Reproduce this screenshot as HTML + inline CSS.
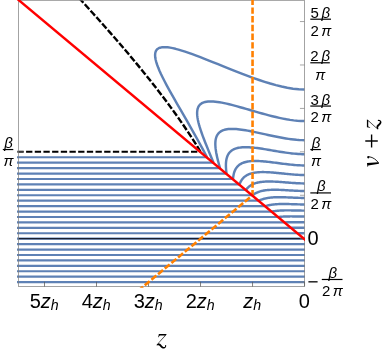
<!DOCTYPE html>
<html><head><meta charset="utf-8"><style>
html,body{margin:0;padding:0;background:#fff;}
body{width:390px;height:358px;overflow:hidden;position:relative;font-family:"Liberation Sans",sans-serif;color:#000;}
svg{position:absolute;left:0;top:0;will-change:transform;}
text{font-family:"Liberation Sans",sans-serif;fill:#000;}
.i{font-style:italic;}
.s{font-family:"Liberation Serif",serif;font-style:italic;}
</style></head><body>
<svg width="390" height="358" viewBox="0 0 390 358">
<defs><clipPath id="c"><rect x="17.0" y="-2" width="287.95" height="289.8"/></clipPath></defs>
<g clip-path="url(#c)">
<path d="M13.29,282.13 309.75,282.13 M13.29,276.70 309.75,276.70 M13.29,271.27 309.75,271.27 M13.29,265.84 309.75,265.84 M13.29,260.41 309.75,260.41 M13.29,254.99 309.75,254.99 M13.29,249.56 309.75,249.56 M13.29,244.13 309.75,244.13 M13.29,238.70 309.75,238.70 M13.29,233.27 298.35,233.27 M13.29,227.84 291.85,227.84 M13.29,222.41 285.35,222.41 M13.29,216.98 278.85,216.98 M13.29,211.56 272.34,211.56 M13.29,206.13 265.84,206.13 M13.29,200.70 259.34,200.70 M13.29,195.27 252.84,195.27 M13.29,189.84 246.34,189.84 M13.29,184.41 239.84,184.41 M13.29,178.98 233.34,178.98 M13.29,173.56 226.84,173.56 M13.29,168.13 220.33,168.13 M13.29,162.70 213.83,162.70 M13.29,157.27 207.33,157.27" fill="none" stroke="#5e81b5" stroke-width="2.2" stroke-linejoin="round"/>
<path d="M298.05,233.27 298.15,233.27 298.25,233.27 298.36,233.27 298.46,233.27 298.56,233.27 298.67,233.27 298.77,233.27 298.87,233.27 298.97,233.27 299.08,233.27 299.18,233.27 299.28,233.27 299.39,233.26 299.49,233.26 299.59,233.26 299.69,233.26 299.80,233.26 299.90,233.26 300.00,233.26 300.11,233.26 300.21,233.26 300.31,233.26 300.42,233.26 300.52,233.26 300.62,233.26 300.73,233.26 300.83,233.26 300.93,233.26 301.03,233.26 301.14,233.26 301.24,233.26 301.34,233.26 301.45,233.26 301.55,233.26 301.65,233.26 301.76,233.26 301.86,233.26 301.96,233.26 302.07,233.26 302.17,233.26 302.27,233.26 302.38,233.26 302.48,233.26 302.58,233.26 302.69,233.26 302.79,233.26 302.89,233.26 303.00,233.26 303.10,233.26 303.21,233.26 303.31,233.26 303.41,233.26 303.52,233.26 303.62,233.26 303.72,233.26 303.83,233.26 303.93,233.26 304.03,233.26 304.14,233.26 304.24,233.26 304.34,233.26 304.45,233.26 304.55,233.26 M291.55,227.84 291.75,227.84 291.95,227.83 292.15,227.83 292.36,227.82 292.56,227.82 292.76,227.81 292.97,227.81 293.17,227.81 293.37,227.80 293.58,227.80 293.78,227.80 293.99,227.79 294.19,227.79 294.39,227.79 294.60,227.79 294.80,227.78 295.01,227.78 295.21,227.78 295.42,227.78 295.63,227.78 295.83,227.78 296.04,227.78 296.24,227.77 296.45,227.77 296.65,227.77 296.86,227.77 297.07,227.77 297.27,227.77 297.48,227.77 297.69,227.77 297.89,227.77 298.10,227.77 298.31,227.77 298.51,227.77 298.72,227.77 298.93,227.77 299.14,227.77 299.34,227.77 299.55,227.77 299.76,227.77 299.97,227.77 300.18,227.77 300.38,227.78 300.59,227.78 300.80,227.78 301.01,227.78 301.22,227.78 301.42,227.78 301.63,227.78 301.84,227.78 302.05,227.78 302.26,227.78 302.46,227.78 302.67,227.78 302.88,227.78 303.09,227.78 303.30,227.78 303.51,227.78 303.72,227.78 303.92,227.79 304.13,227.79 304.34,227.79 304.55,227.79 M285.05,222.41 285.34,222.40 285.64,222.38 285.93,222.36 286.23,222.35 286.53,222.33 286.83,222.32 287.13,222.30 287.43,222.29 287.73,222.28 288.03,222.27 288.33,222.26 288.63,222.25 288.93,222.24 289.24,222.23 289.54,222.22 289.84,222.22 290.15,222.21 290.45,222.20 290.76,222.20 291.07,222.19 291.37,222.19 291.68,222.19 291.99,222.18 292.30,222.18 292.61,222.18 292.91,222.17 293.22,222.17 293.53,222.17 293.84,222.17 294.16,222.17 294.47,222.17 294.78,222.17 295.09,222.17 295.40,222.17 295.71,222.17 296.03,222.17 296.34,222.17 296.65,222.17 296.97,222.18 297.28,222.18 297.60,222.18 297.91,222.18 298.22,222.18 298.54,222.19 298.85,222.19 299.17,222.19 299.48,222.19 299.80,222.20 300.12,222.20 300.43,222.20 300.75,222.20 301.06,222.20 301.38,222.21 301.70,222.21 302.01,222.21 302.33,222.21 302.65,222.21 302.96,222.22 303.28,222.22 303.60,222.22 303.92,222.22 304.23,222.22 304.55,222.22 M278.55,216.98 278.92,216.94 279.30,216.90 279.68,216.86 280.07,216.82 280.45,216.79 280.84,216.75 281.22,216.72 281.61,216.69 282.00,216.66 282.39,216.63 282.79,216.61 283.18,216.59 283.58,216.56 283.98,216.54 284.37,216.53 284.77,216.51 285.18,216.49 285.58,216.48 285.98,216.46 286.39,216.45 286.79,216.44 287.20,216.43 287.61,216.42 288.02,216.42 288.43,216.41 288.84,216.41 289.25,216.40 289.67,216.40 290.08,216.40 290.50,216.39 290.91,216.39 291.33,216.39 291.75,216.39 292.17,216.40 292.59,216.40 293.01,216.40 293.43,216.40 293.85,216.41 294.27,216.41 294.70,216.42 295.12,216.42 295.54,216.42 295.97,216.43 296.39,216.44 296.82,216.44 297.25,216.45 297.67,216.45 298.10,216.46 298.53,216.46 298.96,216.47 299.39,216.48 299.82,216.48 300.25,216.49 300.68,216.49 301.11,216.50 301.54,216.50 301.97,216.50 302.40,216.51 302.83,216.51 303.26,216.51 303.69,216.51 304.12,216.51 304.55,216.51 M272.04,211.56 272.49,211.47 272.94,211.38 273.39,211.30 273.85,211.23 274.31,211.16 274.77,211.09 275.23,211.03 275.70,210.96 276.17,210.91 276.65,210.85 277.12,210.80 277.60,210.76 278.09,210.71 278.57,210.67 279.06,210.64 279.55,210.60 280.04,210.57 280.54,210.54 281.03,210.51 281.53,210.49 282.04,210.47 282.54,210.45 283.05,210.43 283.56,210.42 284.07,210.41 284.58,210.40 285.10,210.39 285.61,210.38 286.13,210.38 286.65,210.37 287.18,210.37 287.70,210.37 288.23,210.37 288.76,210.38 289.29,210.38 289.82,210.38 290.35,210.39 290.89,210.40 291.42,210.41 291.96,210.41 292.50,210.42 293.04,210.43 293.58,210.44 294.12,210.46 294.66,210.47 295.20,210.48 295.75,210.49 296.30,210.50 296.84,210.51 297.39,210.52 297.94,210.54 298.49,210.55 299.04,210.56 299.58,210.57 300.14,210.58 300.69,210.59 301.24,210.59 301.79,210.60 302.34,210.61 302.89,210.61 303.45,210.61 304.00,210.62 304.55,210.62 M265.54,206.13 266.04,205.97 266.54,205.82 267.04,205.68 267.56,205.54 268.07,205.42 268.60,205.29 269.13,205.18 269.66,205.07 270.20,204.97 270.74,204.87 271.29,204.79 271.84,204.70 272.40,204.62 272.97,204.55 273.53,204.48 274.11,204.42 274.68,204.37 275.27,204.31 275.85,204.27 276.44,204.22 277.04,204.18 277.64,204.15 278.24,204.12 278.85,204.09 279.46,204.07 280.07,204.05 280.69,204.04 281.31,204.03 281.93,204.02 282.56,204.01 283.19,204.01 283.83,204.01 284.47,204.01 285.11,204.02 285.75,204.03 286.40,204.03 287.05,204.05 287.70,204.06 288.35,204.07 289.01,204.09 289.67,204.11 290.33,204.12 290.99,204.14 291.66,204.16 292.33,204.18 292.99,204.20 293.67,204.23 294.34,204.25 295.01,204.27 295.69,204.29 296.36,204.31 297.04,204.33 297.72,204.35 298.40,204.37 299.08,204.38 299.76,204.40 300.45,204.41 301.13,204.43 301.81,204.44 302.50,204.45 303.18,204.45 303.87,204.46 304.55,204.46 M259.04,200.70 259.56,200.44 260.09,200.19 260.62,199.96 261.17,199.73 261.72,199.52 262.29,199.32 262.86,199.13 263.44,198.95 264.03,198.79 264.62,198.63 265.23,198.48 265.84,198.34 266.47,198.21 267.10,198.09 267.73,197.98 268.38,197.88 269.03,197.78 269.69,197.70 270.36,197.62 271.03,197.55 271.71,197.49 272.40,197.43 273.09,197.38 273.80,197.34 274.50,197.30 275.22,197.27 275.94,197.24 276.66,197.22 277.39,197.21 278.13,197.20 278.87,197.20 279.62,197.20 280.37,197.20 281.13,197.21 281.89,197.22 282.66,197.24 283.43,197.25 284.21,197.28 284.99,197.30 285.77,197.33 286.56,197.36 287.35,197.39 288.15,197.42 288.95,197.45 289.75,197.49 290.56,197.52 291.36,197.56 292.17,197.59 292.99,197.63 293.80,197.66 294.62,197.70 295.44,197.73 296.26,197.76 297.09,197.80 297.91,197.82 298.74,197.85 299.57,197.88 300.40,197.90 301.23,197.92 302.06,197.93 302.89,197.94 303.72,197.95 304.55,197.95 M252.54,195.27 253.05,194.86 253.57,194.48 254.10,194.11 254.65,193.76 255.21,193.43 255.79,193.11 256.38,192.82 256.98,192.53 257.60,192.27 258.23,192.02 258.87,191.79 259.52,191.57 260.19,191.37 260.87,191.18 261.56,191.01 262.26,190.85 262.98,190.70 263.70,190.56 264.44,190.44 265.19,190.33 265.95,190.23 266.72,190.14 267.50,190.06 268.29,189.99 269.09,189.93 269.90,189.89 270.72,189.85 271.55,189.81 272.39,189.79 273.23,189.78 274.09,189.77 274.96,189.77 275.83,189.78 276.71,189.79 277.60,189.81 278.49,189.83 279.40,189.86 280.31,189.90 281.22,189.94 282.15,189.98 283.07,190.02 284.01,190.07 284.95,190.12 285.90,190.18 286.85,190.23 287.80,190.29 288.77,190.35 289.73,190.41 290.70,190.46 291.67,190.52 292.65,190.58 293.63,190.63 294.61,190.68 295.60,190.73 296.59,190.78 297.58,190.82 298.57,190.86 299.56,190.90 300.56,190.93 301.56,190.95 302.55,190.97 303.55,190.98 304.55,190.99 M246.04,189.84 246.49,189.23 246.96,188.64 247.45,188.08 247.96,187.55 248.49,187.05 249.04,186.58 249.61,186.13 250.20,185.71 250.81,185.31 251.44,184.93 252.09,184.58 252.76,184.25 253.45,183.94 254.15,183.66 254.87,183.39 255.61,183.15 256.37,182.92 257.15,182.72 257.94,182.53 258.75,182.36 259.58,182.21 260.42,182.07 261.28,181.95 262.15,181.85 263.04,181.76 263.94,181.69 264.86,181.63 265.79,181.58 266.74,181.55 267.70,181.52 268.67,181.51 269.66,181.51 270.66,181.52 271.67,181.54 272.69,181.57 273.73,181.61 274.77,181.65 275.83,181.71 276.90,181.77 277.97,181.83 279.06,181.90 280.15,181.98 281.26,182.06 282.37,182.14 283.49,182.23 284.62,182.32 285.75,182.41 286.90,182.50 288.04,182.59 289.20,182.68 290.36,182.77 291.52,182.85 292.69,182.93 293.86,183.01 295.04,183.09 296.22,183.16 297.41,183.22 298.59,183.28 299.78,183.32 300.97,183.36 302.16,183.39 303.36,183.41 304.55,183.42 M239.54,184.41 239.86,183.50 240.22,182.64 240.61,181.82 241.02,181.04 241.47,180.30 241.94,179.59 242.45,178.93 242.98,178.31 243.54,177.72 244.12,177.16 244.74,176.64 245.38,176.16 246.05,175.70 246.75,175.28 247.47,174.89 248.22,174.52 249.00,174.19 249.80,173.89 250.63,173.61 251.48,173.36 252.35,173.13 253.25,172.93 254.18,172.75 255.12,172.60 256.09,172.46 257.08,172.35 258.09,172.26 259.13,172.19 260.18,172.14 261.26,172.11 262.35,172.09 263.47,172.09 264.60,172.10 265.75,172.13 266.92,172.18 268.11,172.24 269.31,172.30 270.53,172.38 271.77,172.47 273.02,172.57 274.29,172.68 275.56,172.80 276.86,172.92 278.16,173.05 279.48,173.18 280.81,173.31 282.15,173.45 283.50,173.59 284.86,173.73 286.23,173.87 287.60,174.00 288.99,174.14 290.38,174.26 291.78,174.39 293.18,174.50 294.59,174.61 296.01,174.71 297.42,174.80 298.85,174.87 300.27,174.93 301.69,174.98 303.12,175.01 304.55,175.02 M233.04,178.98 233.15,177.66 233.31,176.39 233.51,175.20 233.74,174.06 234.02,172.98 234.34,171.96 234.71,170.99 235.11,170.08 235.55,169.22 236.03,168.41 236.55,167.65 237.11,166.94 237.71,166.28 238.35,165.66 239.03,165.08 239.74,164.55 240.50,164.06 241.29,163.62 242.11,163.21 242.97,162.84 243.87,162.50 244.80,162.21 245.77,161.95 246.77,161.72 247.81,161.52 248.88,161.36 249.98,161.22 251.11,161.12 252.27,161.04 253.47,160.99 254.69,160.97 255.94,160.97 257.22,160.99 258.53,161.03 259.86,161.10 261.22,161.19 262.61,161.29 264.01,161.41 265.45,161.55 266.90,161.70 268.38,161.86 269.88,162.03 271.39,162.22 272.93,162.41 274.49,162.61 276.06,162.82 277.65,163.03 279.25,163.24 280.87,163.45 282.51,163.67 284.15,163.88 285.81,164.08 287.48,164.28 289.16,164.47 290.85,164.65 292.54,164.82 294.24,164.97 295.95,165.11 297.67,165.23 299.38,165.33 301.10,165.40 302.83,165.44 304.55,165.46 M226.54,173.56 226.30,171.62 226.12,169.77 226.00,168.03 225.93,166.37 225.92,164.79 225.97,163.31 226.07,161.90 226.24,160.57 226.46,159.32 226.73,158.14 227.06,157.03 227.45,155.99 227.89,155.02 228.39,154.12 228.95,153.28 229.56,152.50 230.22,151.78 230.94,151.12 231.71,150.52 232.53,149.97 233.41,149.48 234.34,149.05 235.32,148.66 236.34,148.32 237.42,148.03 238.55,147.79 239.72,147.59 240.94,147.43 242.21,147.32 243.52,147.24 244.88,147.20 246.28,147.20 247.72,147.24 249.21,147.31 250.73,147.41 252.29,147.53 253.89,147.69 255.53,147.87 257.20,148.08 258.91,148.31 260.65,148.56 262.42,148.82 264.23,149.11 266.06,149.40 267.92,149.71 269.80,150.03 271.72,150.35 273.65,150.68 275.61,151.01 277.59,151.35 279.59,151.67 281.60,151.99 283.64,152.31 285.68,152.61 287.74,152.89 289.82,153.16 291.90,153.41 294.00,153.63 296.10,153.82 298.21,153.97 300.32,154.09 302.43,154.16 304.55,154.19 M220.03,168.13 219.21,165.24 218.47,162.51 217.80,159.92 217.21,157.46 216.70,155.13 216.27,152.93 215.93,150.84 215.66,148.88 215.47,147.02 215.36,145.27 215.33,143.63 215.39,142.09 215.52,140.64 215.74,139.30 216.04,138.05 216.41,136.88 216.87,135.81 217.40,134.83 218.02,133.93 218.71,133.11 219.48,132.37 220.33,131.71 221.26,131.12 222.26,130.61 223.33,130.17 224.48,129.80 225.70,129.50 226.99,129.26 228.36,129.08 229.79,128.97 231.29,128.91 232.85,128.91 234.48,128.97 236.18,129.07 237.93,129.22 239.75,129.42 241.63,129.67 243.56,129.95 245.55,130.27 247.59,130.63 249.68,131.02 251.82,131.44 254.01,131.89 256.25,132.36 258.53,132.85 260.85,133.35 263.21,133.87 265.61,134.40 268.05,134.93 270.51,135.47 273.01,136.00 275.54,136.52 278.09,137.03 280.67,137.52 283.27,137.99 285.89,138.44 288.52,138.85 291.17,139.21 293.83,139.53 296.50,139.80 299.18,140.00 301.86,140.13 304.55,140.17 M213.53,162.70 211.65,158.18 209.88,153.92 208.22,149.89 206.67,146.08 205.22,142.47 203.90,139.06 202.68,135.83 201.59,132.78 200.61,129.90 199.75,127.19 199.01,124.63 198.39,122.23 197.90,119.98 197.52,117.88 197.27,115.91 197.14,114.09 197.13,112.40 197.25,110.85 197.48,109.43 197.85,108.13 198.33,106.96 198.93,105.90 199.66,104.97 200.50,104.15 201.47,103.44 202.55,102.85 203.75,102.36 205.06,101.97 206.49,101.69 208.03,101.50 209.68,101.41 211.44,101.41 213.31,101.50 215.28,101.67 217.35,101.92 219.52,102.26 221.79,102.66 224.15,103.13 226.61,103.67 229.15,104.27 231.78,104.93 234.50,105.64 237.29,106.40 240.16,107.20 243.11,108.03 246.13,108.90 249.21,109.79 252.35,110.70 255.56,111.63 258.82,112.56 262.13,113.49 265.50,114.42 268.90,115.33 272.35,116.21 275.83,117.05 279.35,117.86 282.90,118.60 286.47,119.28 290.06,119.88 293.67,120.37 297.29,120.75 300.92,121.00 304.55,121.09 M207.03,157.27 202.73,149.10 198.59,141.46 194.60,134.29 190.78,127.54 187.13,121.17 183.65,115.15 180.35,109.45 177.23,104.06 174.31,98.96 171.58,94.15 169.04,89.60 166.71,85.31 164.58,81.28 162.67,77.50 160.96,73.96 159.47,70.66 158.19,67.59 157.13,64.75 156.29,62.14 155.67,59.75 155.27,57.58 155.10,55.62 155.15,53.88 155.42,52.35 155.91,51.02 156.62,49.89 157.55,48.96 158.70,48.23 160.07,47.68 161.66,47.33 163.45,47.15 165.46,47.15 167.67,47.32 170.09,47.66 172.71,48.16 175.52,48.81 178.53,49.61 181.72,50.56 185.10,51.64 188.65,52.85 192.38,54.18 196.27,55.62 200.33,57.17 204.54,58.81 208.90,60.54 213.40,62.34 218.03,64.21 222.80,66.13 227.69,68.10 232.69,70.10 237.80,72.11 243.00,74.12 248.30,76.11 253.69,78.07 259.15,79.97 264.67,81.80 270.26,83.52 275.90,85.11 281.57,86.53 287.29,87.75 293.03,88.70 298.78,89.33 304.55,89.56" fill="none" stroke="#5e81b5" stroke-width="2.45" stroke-linejoin="round"/>
<path d="M18.5,238.70 H304.55" stroke="#0a0a14" stroke-width="1.0" fill="none"/>
<path d="M17.4,151.84 H200.53" fill="none" stroke="#000" stroke-width="2.0" stroke-dasharray="6.3 2.38"/>
<path d="M200.53,151.84 196.23,144.79 191.92,138.00 187.62,131.43 183.31,125.04 179.01,118.83 174.70,112.77 170.40,106.83 166.10,101.02 161.79,95.32 157.49,89.71 153.18,84.19 148.88,78.76 144.57,73.40 140.27,68.10 135.97,62.87 131.66,57.71 127.36,52.59 123.05,47.53 118.75,42.52 114.44,37.55 110.14,32.62 105.84,27.73 101.53,22.88 97.23,18.07 92.92,13.29 88.62,8.54 84.31,3.82 80.01,-0.88 75.71,-5.54" fill="none" stroke="#000" stroke-width="2.4" stroke-dasharray="6.6 2.03"/>
</g>
<rect x="18.5" y="0.3" width="286.05" height="286.3" fill="none" stroke="#7c7c7c" stroke-width="0.7"/>
<path d="M304.55,286.6 v-4.8 M252.54,286.6 v-4.8 M200.53,286.6 v-4.8 M148.52,286.6 v-4.8 M96.51,286.6 v-4.8 M44.50,286.6 v-4.8" stroke="#5a5a5a" stroke-width="0.75" fill="none"/>
<path d="M304.55,282.13 h-4.6 M304.55,238.70 h-4.6 M304.55,195.27 h-4.6 M304.55,151.84 h-4.6 M304.55,108.41 h-4.6 M304.55,64.98 h-4.6 M304.55,21.55 h-4.6 M18.5,151.84 h4.6" stroke="#808080" stroke-width="0.7" fill="none"/>
<g clip-path="url(#c)">
<path d="M252.54,-1.3 L252.54,195.27 L132.92,295.16" fill="none" stroke="#ff8000" stroke-width="2.6" stroke-dasharray="6.4 2.3"/>
<path d="M309.75,243.54 L13.29,-4.46" stroke="#ff0000" stroke-width="2.4" fill="none"/>
</g>
<text x="304.25" y="307.90" font-size="20.0" text-anchor="middle">0</text>
<text x="252.24" y="307.9" font-size="20.0" text-anchor="middle"><tspan class="i">z</tspan><tspan class="i" font-size="14.2" dy="2.4">h</tspan></text>
<text x="200.23" y="307.9" font-size="20.0" text-anchor="middle">2<tspan class="i">z</tspan><tspan class="i" font-size="14.2" dy="2.4">h</tspan></text>
<text x="148.22" y="307.9" font-size="20.0" text-anchor="middle">3<tspan class="i">z</tspan><tspan class="i" font-size="14.2" dy="2.4">h</tspan></text>
<text x="96.21" y="307.9" font-size="20.0" text-anchor="middle">4<tspan class="i">z</tspan><tspan class="i" font-size="14.2" dy="2.4">h</tspan></text>
<text x="44.20" y="307.9" font-size="20.0" text-anchor="middle">5<tspan class="i">z</tspan><tspan class="i" font-size="14.2" dy="2.4">h</tspan></text>
<text x="310.40" y="17.75" font-size="15.0" text-anchor="start">5</text>
<text x="321.60" y="17.75" font-size="15.0" class="i" text-anchor="start">β</text>
<path d="M310.30,19.20 H331.00" stroke="#000" stroke-width="1.2" fill="none"/>
<text x="310.40" y="35.55" font-size="15.0" text-anchor="start">2</text>
<text x="321.30" y="35.55" font-size="15.0" class="i" text-anchor="start">π</text>
<text x="310.40" y="104.61" font-size="15.0" text-anchor="start">3</text>
<text x="321.60" y="104.61" font-size="15.0" class="i" text-anchor="start">β</text>
<path d="M310.30,106.06 H331.00" stroke="#000" stroke-width="1.2" fill="none"/>
<text x="310.40" y="122.41" font-size="15.0" text-anchor="start">2</text>
<text x="321.30" y="122.41" font-size="15.0" class="i" text-anchor="start">π</text>
<text x="317.00" y="191.47" font-size="15.0" class="i" text-anchor="start">β</text>
<path d="M310.30,192.92 H331.00" stroke="#000" stroke-width="1.2" fill="none"/>
<text x="310.40" y="209.27" font-size="15.0" text-anchor="start">2</text>
<text x="321.30" y="209.27" font-size="15.0" class="i" text-anchor="start">π</text>
<text x="310.20" y="60.98" font-size="15.0" text-anchor="start">2</text>
<text x="321.40" y="60.98" font-size="15.0" class="i" text-anchor="start">β</text>
<path d="M310.30,62.78 H329.80" stroke="#000" stroke-width="1.2" fill="none"/>
<text x="315.20" y="79.68" font-size="15.0" class="i" text-anchor="start">π</text>
<text x="311.80" y="148.14" font-size="15.0" class="i" text-anchor="start">β</text>
<path d="M310.30,149.54 H320.80" stroke="#000" stroke-width="1.2" fill="none"/>
<text x="310.90" y="166.14" font-size="15.0" class="i" text-anchor="start">π</text>
<text x="4.30" y="148.14" font-size="15.0" class="i" text-anchor="start">β</text>
<path d="M2.80,149.54 H13.30" stroke="#000" stroke-width="1.2" fill="none"/>
<text x="3.40" y="166.14" font-size="15.0" class="i" text-anchor="start">π</text>
<text x="307.60" y="245.40" font-size="20.0" text-anchor="start">0</text>
<path d="M308.40,281.83 H317.60" stroke="#000" stroke-width="1.3" fill="none"/>
<text x="328.50" y="278.03" font-size="15.0" class="i" text-anchor="start">β</text>
<path d="M321.80,279.48 H342.50" stroke="#000" stroke-width="1.2" fill="none"/>
<text x="321.90" y="295.83" font-size="15.0" text-anchor="start">2</text>
<text x="332.80" y="295.83" font-size="15.0" class="i" text-anchor="start">π</text>
<g transform="translate(156.72,344.65) scale(0.06711) translate(-100,-246)"><path fill="#000" d="M132,88 L246,88 L244,100 L118,236 C132,226 150,230 166,246 C182,264 196,282 212,282 C224,282 228,270 224,258 C222,248 240,246 242,260 C244,282 228,305 206,305 C184,305 164,286 148,268 C136,255 122,252 104,260 L96,250 L222,108 L150,108 C140,108 136,120 130,136 L122,136 Z"/></g>
<g transform="translate(377.5,129.3) rotate(-90) scale(0.06711) translate(-100,-246)"><path fill="#000" d="M132,88 L246,88 L244,100 L118,236 C132,226 150,230 166,246 C182,264 196,282 212,282 C224,282 228,270 224,258 C222,248 240,246 242,260 C244,282 228,305 206,305 C184,305 164,286 148,268 C136,255 122,252 104,260 L96,250 L222,108 L150,108 C140,108 136,120 130,136 L122,136 Z"/></g>
<g transform="translate(362.0,148.0) scale(0.06711)"><path fill="#000" d="M78,224 L244,212 L254,234 L92,262 L90,280 L82,280 L74,232 Z"/><path fill="none" stroke="#000" stroke-width="13" d="M246,222 C218,180 168,138 106,130"/><circle cx="94" cy="138" r="17" fill="#000"/></g>
<text transform="translate(381.0,141.4) rotate(-90)" font-size="28" class="s" text-anchor="middle">+</text>
</svg>
</body></html>
